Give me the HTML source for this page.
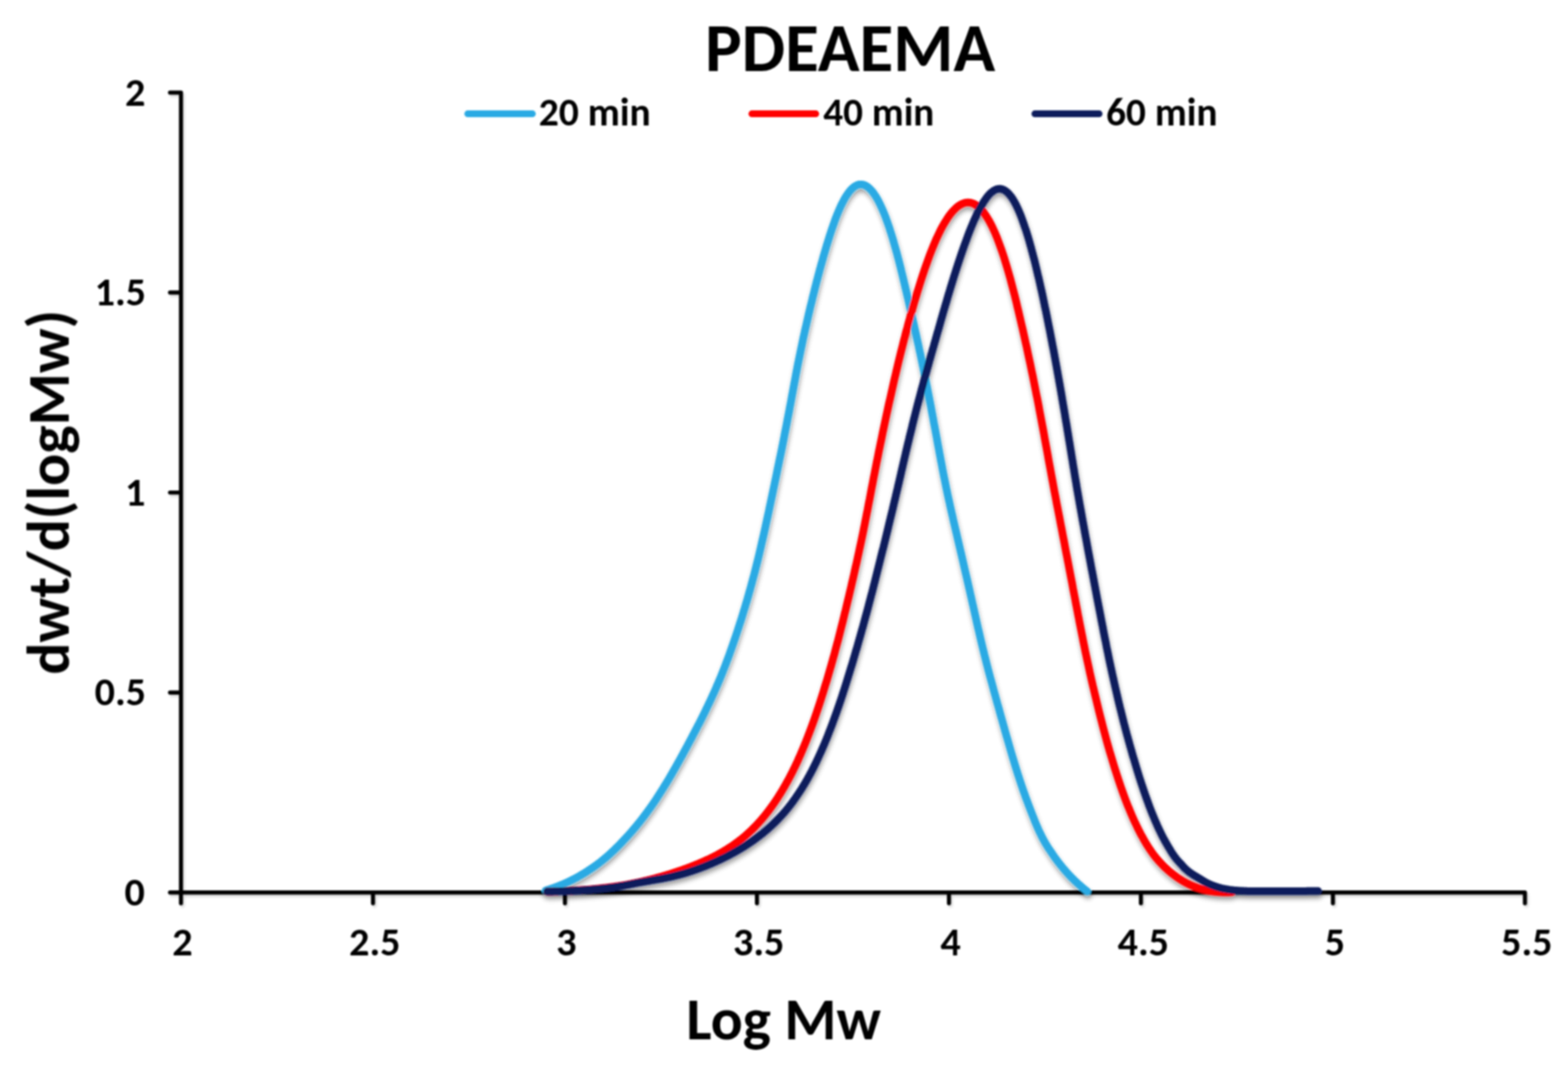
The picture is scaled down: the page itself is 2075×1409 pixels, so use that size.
<!DOCTYPE html>
<html><head><meta charset="utf-8"><title>PDEAEMA</title>
<style>
html,body{margin:0;padding:0;background:#fff;width:2075px;height:1409px;overflow:hidden}
svg{display:block}
</style></head><body>
<svg width="2075" height="1409" viewBox="0 0 2075 1409">
<defs>
<filter id="sh" filterUnits="userSpaceOnUse" x="0" y="0" width="2075" height="1409">
<feGaussianBlur in="SourceAlpha" stdDeviation="3" result="b"/>
<feOffset in="b" dx="0.5" dy="5" result="o"/>
<feComponentTransfer in="o" result="c"><feFuncA type="linear" slope="0.38"/></feComponentTransfer>
<feMerge><feMergeNode in="c"/><feMergeNode in="SourceGraphic"/></feMerge>
</filter>
<filter id="sha" filterUnits="userSpaceOnUse" x="0" y="0" width="2075" height="1409">
<feGaussianBlur in="SourceAlpha" stdDeviation="1.5" result="b"/>
<feOffset in="b" dx="2" dy="3" result="o"/>
<feComponentTransfer in="o" result="c"><feFuncA type="linear" slope="0.15"/></feComponentTransfer>
<feMerge><feMergeNode in="c"/><feMergeNode in="SourceGraphic"/></feMerge>
</filter>
<filter id="soft" filterUnits="userSpaceOnUse" x="0" y="0" width="2075" height="1409"><feGaussianBlur stdDeviation="0.85"/></filter>
</defs>
<rect width="2075" height="1409" fill="#fff"/>
<g filter="url(#soft)">
<path d="M225.0 122.5 H239.5 V1180.7 H2018.0 V1195.0 M225.0 916.2 H239.5 M225.0 651.6 H239.5 M225.0 387.0 H239.5 M225.0 1180.7 H239.5 M239.5 1180.7 V1195.0 M493.6 1180.7 V1195.0 M747.6 1180.7 V1195.0 M1001.7 1180.7 V1195.0 M1255.8 1180.7 V1195.0 M1509.8 1180.7 V1195.0 M1763.9 1180.7 V1195.0" fill="none" stroke="#000" stroke-width="5.4" stroke-linecap="round" stroke-linejoin="round" filter="url(#sha)"/>
<g fill="none" stroke-width="10" stroke-linecap="round" stroke-linejoin="round" filter="url(#sh)">
<path stroke="#2aaae4" d="M722.0 1178.0L723.0 1177.7 723.5 1177.5 724.5 1177.2 725.5 1176.9 726.6 1176.6 727.6 1176.2 728.6 1175.9 729.6 1175.6 730.6 1175.2 731.6 1174.9 732.1 1174.7 733.1 1174.3 734.1 1174.0 735.1 1173.6 736.0 1173.3 737.0 1172.9 738.0 1172.5 739.0 1172.1 739.9 1171.7 740.9 1171.4 741.9 1171.0 742.8 1170.6 743.8 1170.2 744.8 1169.8 745.7 1169.3 746.7 1168.9 747.6 1168.5 748.6 1168.1 749.5 1167.7 750.4 1167.2 751.4 1166.8 752.3 1166.4 753.2 1165.9 754.6 1165.2 755.5 1164.8 756.5 1164.3 757.4 1163.9 758.3 1163.4 759.2 1162.9 760.1 1162.5 761.5 1161.7 762.4 1161.3 763.3 1160.8 764.1 1160.3 765.5 1159.5 766.4 1159.0 767.3 1158.5 768.1 1158.0 769.5 1157.3 770.3 1156.7 771.2 1156.2 772.5 1155.4 773.4 1154.9 774.2 1154.4 775.5 1153.6 776.4 1153.0 777.2 1152.5 778.5 1151.6 779.3 1151.1 780.6 1150.2 781.4 1149.7 782.7 1148.8 783.5 1148.3 784.8 1147.4 785.6 1146.8 786.8 1146.0 787.7 1145.4 788.9 1144.5 789.7 1143.9 790.9 1143.0 791.8 1142.4 793.0 1141.5 794.1 1140.6 795.0 1139.9 796.1 1139.0 797.0 1138.3 798.1 1137.4 799.2 1136.5 800.1 1135.8 801.2 1134.8 802.3 1133.9 803.2 1133.1 804.3 1132.2 805.3 1131.2 806.2 1130.4 807.3 1129.4 808.4 1128.5 809.4 1127.5 810.3 1126.6 811.4 1125.7 812.4 1124.7 813.4 1123.7 814.3 1122.8 815.4 1121.8 816.4 1120.7 817.4 1119.7 818.4 1118.7 819.4 1117.7 820.4 1116.7 821.4 1115.7 822.4 1114.6 823.4 1113.6 824.4 1112.5 825.4 1111.5 826.4 1110.4 827.4 1109.3 828.4 1108.3 829.4 1107.2 830.4 1106.1 831.4 1105.0 832.4 1103.9 833.4 1102.8 834.4 1101.6 835.4 1100.5 836.4 1099.3 837.4 1098.2 838.4 1097.0 839.4 1095.8 840.4 1094.7 841.4 1093.5 842.4 1092.2 843.4 1091.0 844.4 1089.8 845.4 1088.6 846.4 1087.3 847.4 1086.1 848.4 1084.8 849.4 1083.5 850.4 1082.2 851.4 1080.9 852.4 1079.6 853.4 1078.3 854.4 1076.9 855.4 1075.6 856.4 1074.2 857.4 1072.8 858.4 1071.4 859.5 1070.0 860.5 1068.6 861.5 1067.2 862.5 1065.7 863.5 1064.3 864.5 1062.8 865.5 1061.4 866.5 1059.9 867.5 1058.4 868.5 1056.9 869.5 1055.3 870.5 1053.8 871.5 1052.3 872.5 1050.7 873.5 1049.1 874.5 1047.6 875.5 1046.0 876.5 1044.4 877.5 1042.8 878.5 1041.1 879.5 1039.5 880.5 1037.9 881.6 1036.2 882.6 1034.5 883.6 1032.9 884.6 1031.2 885.6 1029.5 886.6 1027.8 887.6 1026.1 888.6 1024.4 889.6 1022.6 890.6 1020.9 891.6 1019.1 892.6 1017.4 893.6 1015.6 894.6 1013.9 895.6 1012.1 896.6 1010.3 897.6 1008.5 898.6 1006.7 899.6 1004.9 900.6 1003.1 901.6 1001.3 902.6 999.5 903.6 997.7 904.6 995.8 905.6 994.0 906.6 992.1 907.6 990.3 908.6 988.4 909.6 986.6 910.6 984.7 911.6 982.8 912.6 980.9 913.6 979.0 914.6 977.2 915.6 975.3 916.6 973.3 917.6 971.4 918.6 969.5 919.6 967.6 920.6 965.7 921.6 963.7 922.6 961.8 923.6 959.8 924.7 957.9 925.7 955.9 926.7 953.9 927.7 951.9 928.7 949.9 929.7 947.9 930.7 945.9 931.7 943.9 932.7 941.9 933.7 939.8 934.7 937.8 935.7 935.7 936.7 933.6 937.7 931.5 938.7 929.4 939.7 927.3 940.7 925.2 941.7 923.0 942.7 920.8 943.7 918.7 944.7 916.4 945.7 914.2 946.7 912.0 947.7 909.7 948.6 907.5 949.6 905.2 950.6 902.9 951.6 900.5 952.6 898.2 953.6 895.8 954.6 893.4 955.6 890.9 956.5 888.5 957.5 886.0 958.5 883.5 959.5 881.0 960.5 878.4 961.4 875.8 962.4 873.2 963.4 870.6 964.4 867.9 965.4 865.2 966.3 862.5 967.3 859.7 968.3 856.9 969.3 854.1 970.3 851.3 971.3 848.4 972.3 845.5 973.3 842.5 974.3 839.5 975.3 836.5 976.3 833.5 977.3 830.4 978.3 827.3 979.3 824.1 980.4 820.9 981.4 817.7 982.4 814.4 983.4 811.1 984.4 807.7 985.5 804.3 986.5 800.9 987.5 797.5 988.6 794.0 989.6 790.4 990.6 786.8 991.6 783.2 992.7 779.5 993.7 775.8 994.7 772.1 995.7 768.3 996.7 764.5 997.8 760.6 998.8 756.7 999.8 752.8 1000.8 748.8 1001.8 744.7 1002.8 740.7 1003.8 736.6 1004.8 732.4 1005.8 728.2 1006.8 724.0 1007.7 719.8 1008.7 715.5 1009.7 711.1 1010.7 706.8 1011.7 702.4 1012.7 697.9 1013.6 693.5 1014.6 689.0 1015.6 684.4 1016.6 679.9 1017.6 675.3 1018.5 670.7 1019.5 666.0 1020.5 661.3 1021.5 656.6 1022.5 651.9 1023.5 647.1 1024.5 642.3 1025.5 637.5 1026.5 632.7 1027.5 627.9 1028.5 623.0 1029.5 618.1 1030.5 613.2 1031.5 608.3 1032.6 603.3 1033.6 598.4 1034.6 593.4 1035.6 588.4 1036.6 583.4 1037.6 578.4 1038.5 573.4 1039.5 568.4 1040.5 563.4 1041.5 558.3 1042.4 553.3 1043.4 548.3 1044.4 543.2 1045.3 538.2 1046.3 533.1 1047.2 528.1 1048.1 523.0 1049.1 518.0 1050.0 513.0 1050.9 508.0 1051.9 503.0 1052.8 498.0 1053.7 493.0 1054.7 488.0 1055.6 483.1 1056.6 478.2 1057.6 473.3 1058.6 468.4 1059.6 463.5 1060.6 458.7 1061.6 453.9 1062.6 449.1 1063.6 444.3 1064.7 439.6 1065.7 434.9 1066.8 430.3 1067.8 425.7 1068.9 421.1 1069.9 416.5 1071.0 412.0 1072.0 407.5 1073.1 403.1 1074.2 398.7 1075.2 394.3 1076.3 390.0 1077.4 385.8 1078.4 381.5 1079.5 377.4 1080.5 373.2 1081.6 369.2 1082.6 365.1 1083.7 361.1 1084.7 357.2 1085.8 353.3 1086.8 349.5 1087.9 345.8 1088.9 342.1 1089.9 338.4 1091.0 334.8 1092.0 331.3 1093.0 327.8 1094.0 324.4 1095.1 321.0 1096.1 317.7 1097.1 314.5 1098.1 311.3 1099.1 308.2 1100.1 305.2 1101.1 302.2 1102.1 299.3 1103.1 296.5 1104.1 293.7 1105.0 291.0 1106.0 288.4 1107.0 285.8 1108.0 283.3 1109.0 280.9 1110.0 278.6 1111.0 276.3 1111.9 274.1 1112.9 272.0 1113.9 269.9 1114.9 268.0 1115.9 266.1 1116.9 264.2 1117.8 262.5 1118.8 260.8 1119.8 259.2 1120.8 257.7 1121.8 256.3 1122.8 254.9 1123.7 253.6 1124.7 252.4 1125.7 251.3 1126.7 250.2 1127.7 249.3 1128.7 248.4 1129.7 247.6 1130.6 246.8 1131.6 246.2 1132.6 245.6 1133.6 245.1 1134.6 244.7 1135.6 244.4 1136.5 244.1 1137.5 244.0 1138.5 243.9 1139.5 243.9 1140.5 243.9 1141.5 244.1 1142.5 244.3 1143.4 244.6 1144.4 245.0 1145.4 245.5 1146.4 246.0 1147.4 246.6 1148.4 247.4 1149.4 248.1 1150.4 249.0 1151.4 250.0 1152.4 251.0 1153.4 252.1 1154.4 253.3 1155.4 254.6 1156.4 255.9 1157.4 257.4 1158.4 258.9 1159.4 260.5 1160.4 262.2 1161.4 263.9 1162.4 265.7 1163.3 267.6 1164.3 269.6 1165.3 271.7 1166.3 273.8 1167.3 276.0 1168.3 278.3 1169.3 280.7 1170.3 283.1 1171.3 285.6 1172.3 288.2 1173.2 290.9 1174.2 293.6 1175.2 296.4 1176.2 299.3 1177.2 302.2 1178.1 305.3 1179.1 308.3 1180.1 311.5 1181.1 314.7 1182.1 318.0 1183.0 321.4 1184.0 324.8 1185.0 328.3 1186.0 331.8 1187.0 335.4 1187.9 339.1 1188.9 342.8 1189.9 346.6 1190.9 350.5 1191.9 354.4 1192.8 358.4 1193.8 362.4 1194.8 366.5 1195.8 370.6 1196.8 374.8 1197.8 379.0 1198.8 383.3 1199.8 387.6 1200.8 392.0 1201.9 396.4 1202.9 400.9 1203.9 405.4 1205.0 410.0 1206.0 414.6 1207.1 419.2 1208.1 423.9 1209.2 428.6 1210.2 433.3 1211.3 438.1 1212.4 442.9 1213.4 447.7 1214.5 452.6 1215.6 457.5 1216.6 462.4 1217.7 467.3 1218.7 472.3 1219.8 477.3 1220.8 482.3 1221.9 487.3 1222.9 492.4 1223.9 497.5 1225.0 502.6 1226.0 507.7 1227.0 512.8 1228.0 517.9 1229.0 523.0 1230.0 528.2 1231.0 533.3 1232.0 538.4 1232.9 543.6 1233.9 548.8 1234.9 553.9 1235.8 559.1 1236.8 564.2 1237.8 569.4 1238.7 574.5 1239.7 579.6 1240.6 584.8 1241.5 589.9 1242.5 595.0 1243.4 600.1 1244.4 605.2 1245.3 610.3 1246.3 615.3 1247.2 620.3 1248.2 625.4 1249.2 630.4 1250.2 635.3 1251.2 640.3 1252.2 645.2 1253.2 650.1 1254.2 655.0 1255.3 659.9 1256.4 664.7 1257.4 669.5 1258.5 674.3 1259.6 679.1 1260.7 683.8 1261.7 688.5 1262.8 693.2 1263.9 697.8 1265.0 702.5 1266.1 707.1 1267.1 711.7 1268.2 716.2 1269.2 720.7 1270.3 725.3 1271.3 729.7 1272.4 734.2 1273.4 738.6 1274.4 743.0 1275.4 747.4 1276.4 751.8 1277.4 756.1 1278.4 760.4 1279.4 764.7 1280.4 769.0 1281.4 773.3 1282.3 777.5 1283.3 781.7 1284.2 785.9 1285.2 790.1 1286.1 794.2 1287.0 798.4 1288.0 802.5 1288.9 806.6 1289.8 810.7 1290.7 814.7 1291.6 818.8 1292.5 822.8 1293.4 826.8 1294.3 830.9 1295.3 834.8 1296.2 838.8 1297.1 842.8 1298.0 846.7 1298.9 850.6 1299.9 854.6 1300.8 858.5 1301.8 862.3 1302.7 866.2 1303.7 870.1 1304.7 873.9 1305.6 877.8 1306.6 881.6 1307.6 885.4 1308.6 889.2 1309.6 893.0 1310.6 896.8 1311.7 900.5 1312.7 904.3 1313.7 908.1 1314.7 911.8 1315.7 915.5 1316.8 919.3 1317.8 923.0 1318.8 926.7 1319.8 930.4 1320.9 934.1 1321.9 937.7 1322.9 941.4 1323.9 945.1 1324.9 948.7 1326.0 952.4 1327.0 956.0 1328.0 959.6 1329.0 963.2 1330.0 966.8 1331.0 970.4 1332.0 973.9 1333.1 977.5 1334.1 981.0 1335.1 984.5 1336.1 988.0 1337.1 991.5 1338.1 995.0 1339.1 998.4 1340.1 1001.9 1341.2 1005.3 1342.2 1008.6 1343.2 1012.0 1344.2 1015.3 1345.3 1018.7 1346.3 1021.9 1347.3 1025.2 1348.4 1028.4 1349.4 1031.6 1350.5 1034.8 1351.5 1038.0 1352.6 1041.1 1353.6 1044.2 1354.7 1047.2 1355.8 1050.2 1356.8 1053.2 1357.9 1056.2 1359.0 1059.1 1360.1 1062.0 1361.1 1064.8 1362.2 1067.7 1363.3 1070.4 1364.3 1073.2 1365.4 1075.9 1366.4 1078.5 1367.5 1081.2 1368.5 1083.8 1369.5 1086.4 1370.6 1088.9 1371.6 1091.3 1372.6 1093.8 1373.7 1096.2 1374.7 1098.6 1375.8 1100.9 1376.9 1103.1 1378.0 1105.4 1379.0 1107.3 1380.1 1109.5 1381.3 1111.7 1382.3 1113.5 1383.5 1115.6 1384.6 1117.4 1385.7 1119.2 1387.0 1121.3 1388.1 1123.0 1389.3 1124.6 1390.4 1126.3 1391.6 1128.0 1392.7 1129.6 1393.5 1130.9 1394.7 1132.5 1395.8 1134.2 1396.7 1135.4 1397.9 1137.0 1398.8 1138.3 1400.0 1139.9 1400.9 1141.1 1401.9 1142.3 1402.8 1143.5 1404.1 1145.1 1405.0 1146.2 1406.0 1147.4 1406.9 1148.6 1407.9 1149.7 1408.6 1150.5 1409.6 1151.7 1410.6 1152.8 1411.6 1154.0 1412.3 1154.7 1413.3 1155.8 1414.4 1157.0 1415.1 1157.7 1416.1 1158.8 1416.8 1159.6 1417.9 1160.7 1418.6 1161.4 1419.4 1162.1 1420.4 1163.2 1421.2 1163.9 1421.9 1164.7 1422.7 1165.4 1423.8 1166.4 1424.5 1167.1 1425.3 1167.9 1426.1 1168.6 1426.8 1169.3 1427.6 1169.9 1428.4 1170.6 1429.2 1171.3 1430.0 1172.0 1430.8 1172.7 1431.6 1173.4 1432.4 1174.1 1433.2 1174.7 1434.0 1175.4 1434.8 1176.1 1435.6 1176.7 1436.4 1177.4 1438.9 1179.4"/>
<path stroke="#ff0000" d="M724.1 1179.5L724.6 1179.5 725.6 1179.5 726.6 1179.5 727.7 1179.4 728.7 1179.4 729.7 1179.4 730.3 1179.4 731.3 1179.3 732.3 1179.3 733.4 1179.3 734.4 1179.3 735.5 1179.2 736.5 1179.2 737.6 1179.2 738.7 1179.1 739.7 1179.1 740.8 1179.0 741.3 1179.0 742.4 1179.0 743.4 1178.9 744.5 1178.9 745.5 1178.9 746.6 1178.8 747.7 1178.8 748.8 1178.7 749.3 1178.7 750.4 1178.6 751.4 1178.6 752.5 1178.5 753.6 1178.5 754.7 1178.4 755.7 1178.4 756.3 1178.3 757.4 1178.3 758.4 1178.2 759.5 1178.1 760.6 1178.1 761.7 1178.0 762.2 1178.0 763.3 1177.9 764.4 1177.8 765.5 1177.7 766.6 1177.7 767.7 1177.6 768.2 1177.5 769.3 1177.5 770.4 1177.4 771.5 1177.3 772.6 1177.2 773.7 1177.1 774.3 1177.1 775.4 1177.0 776.5 1176.9 777.6 1176.8 778.7 1176.7 779.2 1176.7 780.3 1176.6 781.5 1176.5 782.6 1176.4 783.7 1176.3 784.8 1176.2 785.3 1176.1 786.4 1176.0 787.5 1175.9 788.7 1175.8 789.8 1175.7 790.3 1175.6 791.4 1175.5 792.5 1175.4 793.7 1175.2 794.8 1175.1 795.3 1175.1 796.4 1174.9 797.6 1174.8 798.7 1174.7 799.3 1174.6 800.4 1174.5 801.5 1174.4 802.6 1174.2 803.7 1174.1 804.3 1174.0 805.4 1173.9 806.5 1173.8 807.6 1173.6 808.7 1173.5 809.4 1173.4 810.4 1173.2 811.5 1173.1 812.6 1172.9 813.7 1172.8 814.4 1172.7 815.5 1172.5 816.5 1172.4 817.6 1172.2 818.4 1172.1 819.4 1171.9 820.5 1171.8 821.6 1171.6 822.6 1171.4 823.4 1171.3 824.5 1171.1 825.5 1171.0 826.6 1170.8 827.6 1170.6 828.5 1170.4 829.5 1170.3 830.5 1170.1 831.6 1169.9 832.5 1169.7 833.5 1169.5 834.5 1169.3 835.5 1169.1 836.5 1168.9 837.5 1168.7 838.5 1168.5 839.5 1168.3 840.5 1168.1 841.5 1167.9 842.5 1167.7 843.5 1167.5 844.5 1167.3 845.5 1167.1 846.5 1166.8 847.5 1166.6 848.5 1166.4 849.5 1166.2 850.5 1165.9 851.5 1165.7 852.5 1165.5 853.5 1165.2 854.5 1165.0 855.5 1164.8 856.5 1164.5 857.5 1164.3 858.5 1164.0 859.5 1163.8 860.5 1163.5 861.5 1163.3 862.5 1163.0 863.5 1162.8 864.5 1162.5 865.5 1162.2 866.5 1162.0 867.5 1161.7 868.5 1161.4 869.5 1161.2 870.5 1160.9 871.5 1160.6 872.5 1160.3 873.5 1160.0 874.5 1159.8 875.5 1159.5 876.5 1159.2 877.5 1158.9 878.5 1158.6 879.5 1158.3 880.5 1158.0 881.5 1157.7 882.5 1157.4 883.5 1157.1 884.5 1156.8 885.5 1156.5 886.5 1156.2 887.5 1155.8 888.5 1155.5 889.5 1155.2 890.5 1154.9 891.5 1154.6 892.5 1154.2 893.5 1153.9 894.5 1153.6 895.5 1153.2 896.5 1152.9 897.5 1152.6 898.5 1152.2 899.5 1151.9 900.5 1151.5 901.5 1151.2 902.5 1150.8 903.5 1150.5 904.5 1150.1 905.5 1149.8 906.5 1149.4 907.5 1149.0 908.5 1148.7 909.5 1148.3 910.5 1147.9 911.5 1147.5 912.5 1147.2 913.5 1146.8 914.5 1146.4 915.5 1146.0 916.5 1145.6 917.5 1145.2 918.5 1144.8 919.5 1144.4 920.5 1144.0 921.5 1143.6 922.5 1143.2 923.5 1142.8 924.5 1142.4 925.5 1141.9 926.5 1141.5 927.5 1141.1 928.5 1140.7 929.5 1140.2 930.5 1139.8 931.5 1139.3 932.5 1138.9 933.5 1138.4 934.5 1138.0 935.5 1137.5 936.5 1137.1 937.5 1136.6 938.5 1136.1 939.5 1135.6 940.5 1135.2 941.5 1134.7 942.5 1134.2 943.5 1133.7 944.5 1133.2 945.5 1132.7 946.5 1132.1 947.5 1131.6 948.5 1131.1 949.5 1130.6 950.5 1130.0 951.5 1129.5 952.5 1128.9 953.5 1128.4 954.5 1127.8 955.5 1127.2 956.5 1126.7 957.5 1126.1 958.5 1125.5 959.5 1124.9 960.5 1124.3 961.5 1123.7 962.5 1123.1 963.5 1122.4 964.5 1121.8 965.5 1121.1 966.5 1120.5 967.5 1119.8 968.5 1119.2 969.5 1118.5 970.5 1117.8 971.5 1117.1 972.5 1116.4 973.5 1115.7 974.5 1114.9 975.5 1114.2 976.5 1113.5 977.5 1112.7 978.5 1111.9 979.5 1111.2 980.5 1110.4 981.5 1109.6 982.5 1108.8 983.5 1107.9 984.5 1107.1 985.5 1106.3 986.5 1105.4 987.5 1104.5 988.5 1103.6 989.5 1102.7 990.5 1101.8 991.5 1100.9 992.5 1100.0 993.5 1099.0 994.5 1098.1 995.5 1097.1 996.5 1096.1 997.5 1095.1 998.5 1094.1 999.5 1093.1 1000.5 1092.0 1001.5 1091.0 1002.5 1089.9 1003.5 1088.8 1004.5 1087.7 1005.5 1086.6 1006.5 1085.5 1007.5 1084.3 1008.5 1083.2 1009.5 1082.0 1010.5 1080.8 1011.5 1079.6 1012.5 1078.3 1013.5 1077.1 1014.5 1075.8 1015.5 1074.5 1016.5 1073.3 1017.5 1071.9 1018.5 1070.6 1019.5 1069.2 1020.5 1067.9 1021.5 1066.5 1022.5 1065.1 1023.5 1063.7 1024.5 1062.2 1025.5 1060.7 1026.5 1059.3 1027.5 1057.8 1028.5 1056.2 1029.5 1054.7 1030.5 1053.1 1031.5 1051.6 1032.5 1049.9 1033.5 1048.3 1034.5 1046.7 1035.5 1045.0 1036.5 1043.3 1037.5 1041.6 1038.5 1039.9 1039.5 1038.1 1040.5 1036.3 1041.5 1034.5 1042.5 1032.7 1043.5 1030.9 1044.5 1029.0 1045.5 1027.1 1046.5 1025.2 1047.5 1023.2 1048.5 1021.3 1049.5 1019.3 1050.5 1017.2 1051.5 1015.2 1052.5 1013.1 1053.5 1011.0 1054.5 1008.9 1055.5 1006.8 1056.4 1004.6 1057.4 1002.4 1058.4 1000.2 1059.4 997.9 1060.4 995.6 1061.4 993.3 1062.4 990.9 1063.4 988.6 1064.4 986.2 1065.4 983.7 1066.4 981.3 1067.3 978.8 1068.3 976.3 1069.3 973.7 1070.3 971.1 1071.3 968.5 1072.3 965.9 1073.3 963.2 1074.3 960.5 1075.3 957.7 1076.3 955.0 1077.3 952.2 1078.3 949.3 1079.3 946.5 1080.3 943.5 1081.3 940.6 1082.3 937.6 1083.3 934.6 1084.3 931.6 1085.3 928.5 1086.3 925.4 1087.3 922.3 1088.3 919.1 1089.3 915.9 1090.3 912.6 1091.3 909.3 1092.3 906.0 1093.4 902.7 1094.4 899.3 1095.4 895.9 1096.4 892.4 1097.4 888.9 1098.4 885.4 1099.5 881.8 1100.5 878.2 1101.5 874.6 1102.5 870.9 1103.6 867.2 1104.6 863.4 1105.6 859.6 1106.6 855.8 1107.6 852.0 1108.7 848.1 1109.7 844.2 1110.7 840.2 1111.7 836.2 1112.7 832.2 1113.7 828.2 1114.8 824.1 1115.8 820.0 1116.8 815.8 1117.8 811.6 1118.9 807.4 1119.9 803.2 1120.9 798.9 1121.9 794.6 1123.0 790.3 1124.0 785.9 1125.0 781.6 1126.1 777.1 1127.1 772.7 1128.1 768.2 1129.2 763.8 1130.2 759.2 1131.2 754.7 1132.2 750.2 1133.3 745.6 1134.3 741.0 1135.3 736.3 1136.3 731.7 1137.3 727.0 1138.3 722.4 1139.3 717.7 1140.3 712.9 1141.3 708.2 1142.3 703.4 1143.2 698.7 1144.2 693.9 1145.1 689.1 1146.1 684.3 1147.0 679.5 1148.0 674.7 1148.9 669.8 1149.8 665.0 1150.8 660.2 1151.7 655.3 1152.6 650.5 1153.5 645.6 1154.5 640.8 1155.4 635.9 1156.3 631.0 1157.3 626.2 1158.2 621.4 1159.2 616.5 1160.1 611.7 1161.1 606.9 1162.1 602.0 1163.0 597.2 1164.0 592.4 1165.0 587.6 1166.0 582.9 1167.0 578.1 1167.9 573.3 1168.9 568.6 1169.9 563.9 1170.9 559.2 1171.9 554.5 1172.9 549.8 1173.9 545.2 1174.9 540.6 1175.9 535.9 1176.9 531.4 1178.0 526.8 1179.0 522.3 1180.0 517.7 1181.0 513.3 1182.0 508.8 1183.0 504.4 1184.0 500.0 1185.1 495.6 1186.1 491.2 1187.1 486.9 1188.1 482.6 1189.1 478.4 1190.2 474.1 1191.2 469.9 1192.2 465.8 1193.3 461.6 1194.3 457.6 1195.3 453.5 1196.3 449.5 1197.4 445.5 1198.4 441.5 1199.4 437.6 1200.5 433.8 1201.5 429.9 1202.5 426.1 1203.6 422.4 1204.6 418.6 1205.6 415.0 1206.7 411.3 1207.7 407.7 1208.7 404.1 1209.7 400.6 1210.8 397.1 1211.8 393.7 1212.8 390.3 1213.8 386.9 1214.8 383.6 1215.8 380.4 1216.8 377.1 1217.8 373.9 1218.8 370.8 1219.8 367.7 1220.8 364.6 1221.8 361.6 1222.8 358.6 1223.8 355.7 1224.8 352.8 1225.8 350.0 1226.8 347.2 1227.8 344.4 1228.8 341.7 1229.7 339.1 1230.7 336.4 1231.7 333.9 1232.7 331.3 1233.7 328.9 1234.7 326.4 1235.7 324.0 1236.6 321.7 1237.6 319.4 1238.6 317.1 1239.6 314.9 1240.6 312.8 1241.6 310.7 1242.6 308.6 1243.6 306.6 1244.5 304.6 1245.5 302.7 1246.5 300.8 1247.5 299.0 1248.5 297.3 1249.5 295.5 1250.5 293.9 1251.5 292.2 1252.5 290.7 1253.5 289.1 1254.5 287.6 1255.5 286.2 1256.4 284.8 1257.4 283.5 1258.4 282.2 1259.4 281.0 1260.4 279.9 1261.4 278.7 1262.4 277.7 1263.4 276.7 1264.4 275.7 1265.4 274.8 1266.4 273.9 1267.4 273.1 1268.4 272.4 1269.4 271.7 1270.4 271.1 1271.4 270.5 1272.4 270.0 1273.4 269.5 1274.5 269.1 1275.5 268.7 1276.5 268.4 1277.5 268.2 1278.5 268.0 1279.5 267.9 1280.5 267.8 1281.5 267.8 1282.5 267.9 1283.5 268.0 1284.5 268.2 1285.5 268.4 1286.5 268.7 1287.6 269.1 1288.6 269.5 1289.6 270.0 1290.6 270.6 1291.6 271.2 1292.6 271.9 1293.6 272.6 1294.6 273.4 1295.6 274.3 1296.6 275.2 1297.6 276.2 1298.6 277.3 1299.6 278.4 1300.6 279.6 1301.6 280.9 1302.6 282.2 1303.6 283.6 1304.6 285.0 1305.6 286.6 1306.6 288.2 1307.6 289.8 1308.6 291.5 1309.6 293.3 1310.6 295.2 1311.6 297.1 1312.6 299.1 1313.6 301.2 1314.6 303.3 1315.6 305.5 1316.6 307.7 1317.6 310.1 1318.6 312.5 1319.6 314.9 1320.5 317.4 1321.5 320.0 1322.5 322.7 1323.5 325.4 1324.5 328.2 1325.5 331.0 1326.5 334.0 1327.5 336.9 1328.5 340.0 1329.5 343.1 1330.4 346.3 1331.4 349.5 1332.4 352.8 1333.4 356.2 1334.4 359.6 1335.4 363.1 1336.4 366.6 1337.4 370.2 1338.3 373.9 1339.3 377.6 1340.3 381.4 1341.3 385.2 1342.3 389.1 1343.3 393.0 1344.3 397.0 1345.3 401.1 1346.2 405.2 1347.2 409.3 1348.2 413.5 1349.2 417.8 1350.2 422.1 1351.2 426.5 1352.2 430.9 1353.3 435.3 1354.3 439.8 1355.3 444.3 1356.3 448.9 1357.3 453.5 1358.4 458.2 1359.4 462.9 1360.4 467.7 1361.4 472.4 1362.5 477.3 1363.5 482.1 1364.5 487.0 1365.5 491.9 1366.6 496.9 1367.6 501.9 1368.6 506.9 1369.6 512.0 1370.6 517.1 1371.6 522.2 1372.7 527.3 1373.7 532.5 1374.7 537.7 1375.6 542.9 1376.6 548.1 1377.6 553.4 1378.6 558.7 1379.6 564.0 1380.6 569.3 1381.6 574.6 1382.5 580.0 1383.5 585.3 1384.5 590.7 1385.5 596.1 1386.5 601.5 1387.4 606.9 1388.4 612.3 1389.4 617.7 1390.4 623.1 1391.4 628.6 1392.4 634.0 1393.4 639.4 1394.4 644.9 1395.4 650.3 1396.5 655.7 1397.5 661.1 1398.5 666.6 1399.6 672.0 1400.6 677.4 1401.7 682.8 1402.7 688.2 1403.7 693.6 1404.8 699.0 1405.8 704.4 1406.8 709.7 1407.9 715.1 1408.9 720.4 1409.9 725.8 1410.9 731.1 1412.0 736.4 1413.0 741.7 1414.0 746.9 1415.0 752.2 1416.0 757.4 1417.0 762.7 1418.0 767.8 1419.0 773.0 1419.9 778.2 1420.9 783.3 1421.9 788.4 1422.9 793.5 1423.8 798.6 1424.8 803.6 1425.8 808.7 1426.7 813.7 1427.7 818.6 1428.6 823.6 1429.6 828.5 1430.6 833.4 1431.5 838.2 1432.5 843.1 1433.4 847.9 1434.4 852.6 1435.4 857.4 1436.3 862.1 1437.3 866.7 1438.3 871.4 1439.3 876.0 1440.3 880.5 1441.3 885.1 1442.2 889.6 1443.2 894.0 1444.2 898.4 1445.2 902.8 1446.2 907.2 1447.3 911.5 1448.3 915.8 1449.3 920.0 1450.3 924.2 1451.3 928.4 1452.3 932.5 1453.3 936.6 1454.3 940.7 1455.3 944.7 1456.3 948.7 1457.3 952.6 1458.3 956.5 1459.3 960.4 1460.3 964.2 1461.3 968.0 1462.3 971.8 1463.3 975.5 1464.3 979.2 1465.3 982.8 1466.3 986.4 1467.3 989.9 1468.3 993.4 1469.4 996.9 1470.4 1000.3 1471.4 1003.7 1472.4 1007.1 1473.4 1010.4 1474.4 1013.7 1475.4 1016.9 1476.4 1020.1 1477.4 1023.2 1478.4 1026.3 1479.4 1029.4 1480.4 1032.4 1481.4 1035.4 1482.4 1038.4 1483.4 1041.3 1484.4 1044.2 1485.4 1047.0 1486.4 1049.8 1487.4 1052.5 1488.4 1055.2 1489.4 1057.9 1490.4 1060.6 1491.4 1063.1 1492.4 1065.7 1493.5 1068.2 1494.5 1070.7 1495.5 1073.1 1496.5 1075.5 1497.5 1077.9 1498.5 1080.2 1499.5 1082.5 1500.5 1084.8 1501.5 1087.0 1502.6 1089.1 1503.6 1091.3 1504.6 1093.4 1505.6 1095.5 1506.6 1097.5 1507.6 1099.5 1508.6 1101.4 1509.6 1103.4 1510.6 1105.2 1511.7 1107.1 1512.7 1108.9 1513.7 1110.7 1514.7 1112.5 1515.7 1114.2 1516.7 1115.9 1517.7 1117.5 1518.7 1119.1 1519.7 1120.7 1520.7 1122.3 1521.7 1123.8 1522.8 1125.3 1523.8 1126.8 1524.8 1128.2 1525.8 1129.6 1526.8 1131.0 1527.8 1132.3 1528.9 1133.6 1529.9 1134.9 1531.0 1136.1 1532.0 1137.3 1533.0 1138.5 1534.1 1139.7 1535.1 1140.8 1536.2 1141.9 1537.1 1142.9 1538.1 1144.0 1539.2 1145.0 1540.2 1146.1 1541.1 1147.0 1542.2 1148.0 1543.3 1149.0 1544.2 1149.8 1545.3 1150.8 1546.1 1151.6 1547.2 1152.5 1548.1 1153.2 1549.2 1154.2 1550.1 1154.9 1551.2 1155.8 1552.1 1156.5 1553.0 1157.1 1554.1 1158.0 1555.0 1158.7 1555.9 1159.3 1557.1 1160.2 1557.9 1160.8 1558.8 1161.4 1560.1 1162.2 1560.9 1162.8 1561.8 1163.4 1562.7 1163.9 1563.6 1164.5 1564.9 1165.3 1565.8 1165.8 1566.7 1166.4 1567.6 1166.9 1568.5 1167.4 1569.4 1167.9 1570.3 1168.4 1571.3 1168.9 1572.2 1169.3 1573.2 1169.8 1574.6 1170.5 1575.5 1170.9 1576.5 1171.4 1577.5 1171.8 1578.5 1172.2 1579.5 1172.6 1580.4 1173.0 1581.4 1173.4 1582.0 1173.6 1583.0 1173.9 1584.0 1174.3 1585.0 1174.7 1586.0 1175.0 1587.1 1175.3 1588.1 1175.7 1589.2 1176.0 1590.2 1176.3 1591.3 1176.6 1592.4 1176.9 1592.9 1177.0 1594.0 1177.3 1595.1 1177.5 1596.2 1177.8 1597.3 1178.0 1598.4 1178.2 1599.0 1178.3 1600.1 1178.6 1601.2 1178.8 1602.4 1178.9 1603.0 1179.0 1604.1 1179.2 1605.3 1179.4 1606.4 1179.5 1607.0 1179.6 1608.2 1179.7 1609.4 1179.8 1610.6 1180.0 1611.2 1180.0 1612.4 1180.1 1613.6 1180.2 1614.2 1180.2 1615.5 1180.3 1616.7 1180.3 1617.3 1180.4 1618.6 1180.4 1619.2 1180.4 1620.5 1180.4 1621.7 1180.4 1622.4 1180.4 1623.7 1180.4 1624.3 1180.4 1625.6 1180.4 1626.2 1180.4 1627.5 1180.3 1628.2 1180.3 1629.5 1180.2 1630.2 1180.2"/>
<path stroke="#0c1f5c" d="M724.1 1179.5L724.6 1179.5 725.7 1179.5 726.3 1179.5 727.4 1179.4 728.5 1179.4 729.6 1179.4 730.7 1179.4 731.8 1179.4 732.3 1179.3 733.4 1179.3 734.5 1179.3 735.6 1179.3 736.8 1179.2 737.3 1179.2 738.4 1179.2 739.6 1179.2 740.7 1179.1 741.2 1179.1 742.4 1179.1 743.5 1179.1 744.6 1179.0 745.7 1179.0 746.3 1179.0 747.4 1178.9 748.6 1178.9 749.7 1178.8 750.3 1178.8 751.4 1178.8 752.5 1178.7 753.7 1178.7 754.3 1178.6 755.4 1178.6 756.5 1178.5 757.7 1178.5 758.3 1178.4 759.4 1178.4 760.6 1178.3 761.7 1178.3 762.3 1178.2 763.4 1178.2 764.6 1178.1 765.8 1178.0 766.3 1178.0 767.5 1177.9 768.6 1177.9 769.2 1177.8 770.4 1177.8 771.5 1177.7 772.7 1177.6 773.3 1177.6 774.5 1177.5 775.6 1177.4 776.8 1177.3 777.4 1177.3 778.5 1177.2 779.7 1177.1 780.3 1177.1 781.5 1177.0 782.6 1176.9 783.2 1176.8 784.4 1176.7 785.6 1176.6 786.8 1176.5 787.3 1176.5 788.5 1176.4 789.7 1176.3 790.3 1176.2 791.5 1176.1 792.6 1176.0 793.2 1175.9 794.4 1175.8 795.6 1175.7 796.8 1175.6 797.4 1175.5 798.6 1175.4 799.7 1175.3 800.4 1175.2 801.5 1175.1 802.7 1175.0 803.3 1174.9 804.5 1174.7 805.6 1174.6 806.3 1174.5 807.5 1174.4 808.6 1174.2 809.7 1174.1 810.5 1174.0 811.6 1173.8 812.7 1173.7 813.4 1173.6 814.6 1173.4 815.7 1173.2 816.4 1173.1 817.5 1173.0 818.6 1172.8 819.4 1172.6 820.5 1172.5 821.6 1172.3 822.4 1172.1 823.5 1172.0 824.6 1171.8 825.7 1171.6 826.5 1171.4 827.6 1171.2 828.6 1171.0 829.5 1170.9 830.6 1170.7 831.6 1170.5 832.5 1170.3 833.5 1170.1 834.6 1169.9 835.5 1169.7 836.5 1169.5 837.5 1169.3 838.5 1169.1 839.5 1168.9 840.5 1168.7 841.5 1168.5 842.5 1168.2 843.5 1168.0 844.5 1167.9 845.5 1167.7 846.5 1167.5 847.5 1167.3 848.5 1167.2 849.5 1167.0 850.5 1166.8 851.5 1166.6 852.5 1166.5 853.5 1166.3 854.5 1166.1 855.5 1165.9 856.5 1165.8 857.5 1165.6 858.5 1165.4 859.5 1165.3 860.5 1165.1 861.5 1164.9 862.5 1164.7 863.5 1164.6 864.5 1164.4 865.5 1164.2 866.5 1164.1 867.5 1163.9 868.5 1163.7 869.5 1163.5 870.5 1163.4 871.5 1163.2 872.5 1163.0 873.5 1162.8 874.5 1162.6 875.5 1162.5 876.5 1162.3 877.5 1162.1 878.5 1161.9 879.5 1161.7 880.5 1161.5 881.5 1161.3 882.5 1161.1 883.5 1160.9 884.5 1160.7 885.5 1160.5 886.5 1160.3 887.5 1160.1 888.5 1159.8 889.5 1159.6 890.5 1159.4 891.5 1159.1 892.5 1158.9 893.5 1158.7 894.5 1158.4 895.5 1158.2 896.5 1157.9 897.5 1157.7 898.5 1157.4 899.5 1157.1 900.5 1156.9 901.5 1156.6 902.5 1156.3 903.5 1156.0 904.5 1155.8 905.5 1155.5 906.5 1155.2 907.5 1154.9 908.5 1154.6 909.5 1154.3 910.5 1154.0 911.5 1153.7 912.5 1153.3 913.5 1153.0 914.5 1152.7 915.5 1152.4 916.5 1152.0 917.5 1151.7 918.5 1151.3 919.5 1151.0 920.5 1150.7 921.5 1150.3 922.5 1149.9 923.5 1149.6 924.5 1149.2 925.5 1148.8 926.5 1148.5 927.5 1148.1 928.5 1147.7 929.5 1147.3 930.5 1147.0 931.5 1146.6 932.5 1146.2 933.5 1145.8 934.5 1145.4 935.5 1145.0 936.5 1144.6 937.5 1144.1 938.5 1143.7 939.5 1143.3 940.5 1142.9 941.5 1142.5 942.5 1142.0 943.5 1141.6 944.5 1141.1 945.5 1140.7 946.5 1140.3 947.5 1139.8 948.5 1139.4 949.5 1138.9 950.5 1138.4 951.5 1138.0 952.5 1137.5 953.5 1137.0 954.5 1136.5 955.5 1136.1 956.5 1135.6 957.5 1135.1 958.5 1134.6 959.5 1134.1 960.5 1133.6 961.5 1133.1 962.5 1132.6 963.5 1132.1 964.5 1131.5 965.5 1131.0 966.5 1130.5 967.5 1129.9 968.5 1129.4 969.5 1128.9 970.5 1128.3 971.5 1127.8 972.5 1127.2 973.5 1126.6 974.5 1126.1 975.5 1125.5 976.5 1124.9 977.5 1124.3 978.5 1123.7 979.5 1123.1 980.5 1122.5 981.5 1121.9 982.5 1121.3 983.5 1120.7 984.5 1120.1 985.5 1119.5 986.5 1118.8 987.5 1118.2 988.5 1117.5 989.5 1116.9 990.5 1116.2 991.5 1115.5 992.5 1114.9 993.5 1114.2 994.5 1113.5 995.5 1112.8 996.5 1112.1 997.5 1111.4 998.5 1110.7 999.5 1110.0 1000.5 1109.2 1001.5 1108.5 1002.5 1107.7 1003.5 1107.0 1004.5 1106.2 1005.5 1105.4 1006.5 1104.7 1007.5 1103.9 1008.5 1103.1 1009.5 1102.3 1010.5 1101.4 1011.5 1100.6 1012.5 1099.8 1013.5 1098.9 1014.5 1098.1 1015.5 1097.2 1016.5 1096.3 1017.5 1095.4 1018.5 1094.5 1019.5 1093.6 1020.5 1092.7 1021.5 1091.8 1022.5 1090.8 1023.5 1089.9 1024.5 1088.9 1025.5 1087.9 1026.5 1086.9 1027.5 1085.9 1028.5 1084.9 1029.5 1083.9 1030.5 1082.8 1031.5 1081.8 1032.5 1080.7 1033.5 1079.6 1034.6 1078.5 1035.6 1077.4 1036.6 1076.2 1037.6 1075.1 1038.6 1073.9 1039.6 1072.8 1040.6 1071.6 1041.6 1070.3 1042.6 1069.1 1043.6 1067.9 1044.6 1066.6 1045.6 1065.3 1046.6 1064.0 1047.6 1062.7 1048.6 1061.4 1049.6 1060.0 1050.5 1058.7 1051.5 1057.3 1052.5 1055.9 1053.5 1054.4 1054.5 1053.0 1055.5 1051.5 1056.5 1050.0 1057.5 1048.5 1058.5 1047.0 1059.5 1045.4 1060.5 1043.9 1061.5 1042.3 1062.5 1040.7 1063.5 1039.0 1064.5 1037.4 1065.5 1035.7 1066.5 1034.0 1067.5 1032.2 1068.5 1030.5 1069.5 1028.7 1070.5 1026.9 1071.5 1025.1 1072.5 1023.2 1073.5 1021.4 1074.5 1019.5 1075.5 1017.5 1076.5 1015.6 1077.5 1013.6 1078.5 1011.6 1079.5 1009.6 1080.5 1007.5 1081.4 1005.4 1082.4 1003.3 1083.4 1001.2 1084.4 999.0 1085.4 996.8 1086.4 994.6 1087.4 992.4 1088.4 990.1 1089.4 987.8 1090.4 985.5 1091.4 983.1 1092.4 980.7 1093.4 978.3 1094.4 975.8 1095.4 973.4 1096.3 970.9 1097.3 968.3 1098.3 965.8 1099.3 963.2 1100.3 960.6 1101.3 957.9 1102.3 955.3 1103.3 952.6 1104.3 949.8 1105.3 947.1 1106.3 944.3 1107.3 941.5 1108.3 938.6 1109.3 935.8 1110.3 932.8 1111.3 929.9 1112.3 927.0 1113.3 924.0 1114.3 921.0 1115.3 917.9 1116.3 914.8 1117.3 911.7 1118.3 908.6 1119.3 905.5 1120.3 902.3 1121.3 899.1 1122.3 895.8 1123.3 892.6 1124.3 889.3 1125.3 886.0 1126.3 882.6 1127.4 879.3 1128.4 875.9 1129.4 872.5 1130.4 869.0 1131.4 865.6 1132.4 862.1 1133.5 858.6 1134.5 855.1 1135.5 851.5 1136.5 847.9 1137.6 844.3 1138.6 840.7 1139.6 837.1 1140.6 833.4 1141.7 829.7 1142.7 826.0 1143.7 822.3 1144.7 818.6 1145.7 814.8 1146.8 811.0 1147.8 807.2 1148.8 803.4 1149.8 799.6 1150.8 795.7 1151.8 791.9 1152.8 788.0 1153.9 784.1 1154.9 780.2 1155.9 776.2 1156.9 772.3 1157.9 768.4 1158.9 764.4 1159.9 760.4 1160.9 756.4 1161.9 752.4 1162.9 748.4 1163.9 744.4 1164.9 740.4 1165.9 736.3 1166.9 732.3 1167.9 728.3 1169.0 724.2 1170.0 720.1 1171.0 716.1 1172.0 712.0 1173.0 707.9 1174.0 703.8 1175.0 699.7 1175.9 695.6 1176.9 691.5 1177.9 687.4 1178.9 683.3 1179.9 679.2 1180.9 675.1 1181.9 671.0 1182.8 666.9 1183.8 662.8 1184.8 658.7 1185.7 654.6 1186.7 650.5 1187.7 646.4 1188.6 642.3 1189.6 638.2 1190.5 634.1 1191.5 630.0 1192.4 625.9 1193.3 621.8 1194.3 617.7 1195.2 613.6 1196.2 609.5 1197.1 605.5 1198.1 601.4 1199.0 597.4 1200.0 593.3 1200.9 589.3 1201.9 585.2 1202.9 581.2 1203.8 577.2 1204.8 573.2 1205.8 569.2 1206.8 565.2 1207.7 561.2 1208.7 557.3 1209.7 553.3 1210.7 549.4 1211.7 545.4 1212.7 541.5 1213.7 537.6 1214.7 533.7 1215.7 529.8 1216.8 525.9 1217.8 522.0 1218.8 518.2 1219.8 514.3 1220.9 510.5 1221.9 506.7 1222.9 502.8 1224.0 499.0 1225.0 495.3 1226.1 491.5 1227.1 487.7 1228.2 484.0 1229.2 480.2 1230.2 476.5 1231.3 472.8 1232.3 469.1 1233.4 465.4 1234.4 461.7 1235.5 458.1 1236.5 454.4 1237.6 450.8 1238.6 447.2 1239.6 443.6 1240.6 440.0 1241.7 436.4 1242.7 432.8 1243.7 429.3 1244.7 425.7 1245.7 422.2 1246.7 418.7 1247.7 415.2 1248.7 411.7 1249.7 408.3 1250.7 404.8 1251.8 401.4 1252.8 398.0 1253.7 394.6 1254.7 391.3 1255.7 387.9 1256.7 384.6 1257.7 381.3 1258.7 378.0 1259.7 374.7 1260.7 371.5 1261.7 368.3 1262.7 365.1 1263.7 361.9 1264.7 358.7 1265.7 355.6 1266.7 352.5 1267.7 349.4 1268.7 346.4 1269.7 343.4 1270.7 340.4 1271.7 337.4 1272.7 334.5 1273.7 331.6 1274.7 328.8 1275.7 325.9 1276.7 323.1 1277.7 320.4 1278.7 317.7 1279.7 315.0 1280.7 312.3 1281.6 309.7 1282.6 307.1 1283.6 304.6 1284.6 302.1 1285.6 299.7 1286.6 297.3 1287.6 294.9 1288.6 292.6 1289.6 290.3 1290.6 288.1 1291.6 286.0 1292.6 283.8 1293.6 281.8 1294.6 279.8 1295.6 277.8 1296.6 275.9 1297.6 274.1 1298.6 272.3 1299.6 270.6 1300.6 268.9 1301.6 267.3 1302.6 265.8 1303.6 264.3 1304.6 262.9 1305.5 261.5 1306.5 260.2 1307.5 259.0 1308.5 257.9 1309.5 256.8 1310.5 255.8 1311.5 254.9 1312.5 254.0 1313.5 253.3 1314.5 252.6 1315.5 251.9 1316.5 251.4 1317.5 250.9 1318.5 250.5 1319.5 250.2 1320.5 250.0 1321.5 249.9 1322.5 249.8 1323.5 249.8 1324.5 249.9 1325.5 250.1 1326.5 250.4 1327.5 250.8 1328.5 251.2 1329.5 251.8 1330.4 252.4 1331.4 253.1 1332.4 253.9 1333.4 254.8 1334.4 255.8 1335.4 256.9 1336.4 258.0 1337.4 259.3 1338.4 260.6 1339.4 262.1 1340.4 263.6 1341.4 265.3 1342.4 267.0 1343.4 268.8 1344.4 270.7 1345.4 272.7 1346.4 274.8 1347.4 276.9 1348.4 279.2 1349.4 281.6 1350.4 284.0 1351.4 286.6 1352.3 289.2 1353.3 291.9 1354.3 294.7 1355.3 297.6 1356.3 300.6 1357.4 303.6 1358.4 306.8 1359.4 310.0 1360.4 313.3 1361.4 316.7 1362.4 320.2 1363.4 323.8 1364.4 327.4 1365.4 331.2 1366.4 335.0 1367.4 338.8 1368.5 342.8 1369.5 346.8 1370.5 350.9 1371.5 355.1 1372.5 359.3 1373.5 363.7 1374.6 368.0 1375.6 372.5 1376.6 377.0 1377.6 381.6 1378.7 386.2 1379.7 390.9 1380.7 395.7 1381.7 400.5 1382.7 405.4 1383.8 410.3 1384.8 415.3 1385.8 420.3 1386.8 425.4 1387.8 430.5 1388.9 435.7 1389.9 440.9 1390.9 446.2 1391.9 451.5 1392.9 456.9 1394.0 462.2 1395.0 467.7 1396.0 473.1 1397.0 478.6 1398.0 484.1 1399.0 489.7 1400.0 495.3 1401.0 500.9 1402.0 506.5 1403.0 512.2 1404.0 517.9 1405.0 523.6 1405.9 529.3 1406.9 535.0 1407.9 540.8 1408.9 546.5 1409.8 552.3 1410.8 558.1 1411.8 563.9 1412.7 569.7 1413.7 575.6 1414.6 581.4 1415.6 587.2 1416.5 593.0 1417.5 598.9 1418.4 604.7 1419.4 610.5 1420.3 616.4 1421.3 622.2 1422.2 628.0 1423.2 633.8 1424.2 639.6 1425.1 645.4 1426.1 651.2 1427.1 656.9 1428.1 662.7 1429.1 668.4 1430.2 674.2 1431.2 679.9 1432.2 685.6 1433.2 691.2 1434.3 696.9 1435.3 702.5 1436.3 708.2 1437.4 713.8 1438.4 719.3 1439.4 724.9 1440.4 730.4 1441.5 735.9 1442.5 741.4 1443.5 746.9 1444.5 752.3 1445.6 757.7 1446.6 763.1 1447.6 768.5 1448.6 773.8 1449.6 779.1 1450.6 784.4 1451.6 789.7 1452.6 794.9 1453.6 800.1 1454.6 805.2 1455.6 810.4 1456.6 815.5 1457.5 820.6 1458.5 825.6 1459.5 830.6 1460.4 835.6 1461.4 840.5 1462.4 845.4 1463.4 850.3 1464.3 855.2 1465.3 860.0 1466.3 864.8 1467.2 869.5 1468.2 874.2 1469.2 878.9 1470.2 883.5 1471.2 888.1 1472.2 892.7 1473.2 897.2 1474.2 901.7 1475.2 906.1 1476.2 910.5 1477.2 914.9 1478.2 919.2 1479.2 923.5 1480.2 927.8 1481.2 932.0 1482.2 936.2 1483.3 940.3 1484.3 944.4 1485.3 948.5 1486.3 952.5 1487.3 956.5 1488.4 960.5 1489.4 964.4 1490.4 968.2 1491.4 972.1 1492.5 975.9 1493.5 979.6 1494.5 983.3 1495.5 987.0 1496.6 990.6 1497.6 994.2 1498.6 997.8 1499.6 1001.3 1500.7 1004.7 1501.7 1008.2 1502.7 1011.5 1503.7 1014.9 1504.7 1018.2 1505.7 1021.5 1506.7 1024.7 1507.7 1027.9 1508.7 1031.0 1509.7 1034.1 1510.7 1037.2 1511.7 1040.2 1512.7 1043.2 1513.7 1046.2 1514.7 1049.1 1515.7 1051.9 1516.7 1054.7 1517.7 1057.5 1518.7 1060.3 1519.7 1063.0 1520.6 1065.6 1521.6 1068.2 1522.6 1070.8 1523.6 1073.3 1524.6 1075.8 1525.6 1078.3 1526.6 1080.7 1527.6 1083.1 1528.6 1085.4 1529.6 1087.7 1530.6 1090.0 1531.5 1092.2 1532.5 1094.4 1533.5 1096.5 1534.5 1098.6 1535.5 1100.7 1536.5 1102.7 1537.5 1104.7 1538.5 1106.7 1539.5 1108.6 1540.5 1110.4 1541.5 1112.3 1542.5 1114.1 1543.5 1115.8 1544.5 1117.6 1545.5 1119.3 1546.5 1121.0 1547.5 1122.6 1548.5 1124.2 1549.4 1125.9 1550.4 1127.5 1551.4 1129.0 1552.4 1130.5 1553.4 1131.9 1554.4 1133.3 1555.4 1134.6 1556.4 1135.9 1557.4 1137.1 1558.4 1138.3 1559.4 1139.4 1560.4 1140.5 1561.4 1141.6 1562.4 1142.6 1563.4 1143.7 1564.4 1144.8 1565.4 1146.0 1566.4 1147.1 1567.4 1148.1 1568.4 1149.1 1569.4 1150.0 1570.4 1150.9 1571.4 1151.8 1572.4 1152.6 1573.4 1153.3 1574.4 1154.1 1575.4 1154.8 1576.4 1155.5 1577.4 1156.2 1578.4 1156.8 1579.4 1157.5 1580.4 1158.1 1581.4 1158.7 1582.4 1159.3 1583.4 1159.9 1584.4 1160.5 1585.4 1161.1 1586.4 1161.7 1587.4 1162.3 1588.4 1162.9 1589.4 1163.5 1590.4 1164.2 1591.4 1164.8 1592.4 1165.4 1593.4 1166.0 1594.4 1166.6 1595.4 1167.1 1596.4 1167.7 1597.4 1168.2 1598.4 1168.7 1599.4 1169.2 1600.4 1169.7 1601.4 1170.1 1602.4 1170.6 1603.4 1170.9 1604.4 1171.3 1605.4 1171.7 1606.4 1172.1 1607.4 1172.4 1608.4 1172.8 1609.4 1173.1 1610.4 1173.4 1611.4 1173.7 1612.4 1174.0 1613.4 1174.3 1614.4 1174.6 1615.4 1174.9 1616.4 1175.1 1617.4 1175.3 1618.5 1175.6 1619.5 1175.8 1620.5 1175.9 1621.5 1176.1 1622.5 1176.3 1623.5 1176.5 1624.5 1176.6 1625.5 1176.8 1626.5 1177.0 1627.4 1177.1 1628.4 1177.3 1629.5 1177.4 1630.4 1177.5 1631.4 1177.6 1632.5 1177.8 1633.4 1177.9 1634.5 1178.0 1635.4 1178.0 1636.4 1178.1 1637.5 1178.2 1638.4 1178.3 1639.5 1178.3 1640.4 1178.4 1641.5 1178.4 1642.6 1178.5 1643.4 1178.5 1644.5 1178.6 1645.4 1178.7 1646.5 1178.7 1647.4 1178.8 1648.5 1178.8 1649.3 1178.8 1650.5 1178.9 1651.6 1178.9 1652.4 1179.0 1653.6 1179.0 1654.4 1179.0 1655.6 1179.0 1656.4 1179.1 1657.6 1179.1 1658.4 1179.1 1659.6 1179.1 1660.3 1179.1 1661.5 1179.1 1662.3 1179.1 1663.5 1179.1 1664.2 1179.1 1665.5 1179.1 1666.8 1179.1 1667.5 1179.1 1668.7 1179.1 1669.4 1179.1 1670.7 1179.1 1671.4 1179.1 1672.7 1179.1 1673.4 1179.1 1674.7 1179.1 1675.3 1179.1 1676.6 1179.1 1677.3 1179.1 1678.6 1179.1 1679.2 1179.1 1680.5 1179.1 1681.2 1179.1 1682.5 1179.1 1683.8 1179.1 1684.4 1179.1 1685.7 1179.1 1686.3 1179.1 1687.6 1179.0 1688.3 1179.0 1689.5 1179.0 1690.2 1179.0 1691.4 1179.0 1692.7 1179.0 1693.4 1179.0 1694.6 1179.0 1695.2 1179.0 1696.5 1179.0 1697.1 1179.0 1698.4 1179.0 1699.6 1179.0 1700.3 1179.0 1701.5 1179.0 1702.1 1179.0 1703.3 1179.0 1704.6 1179.0 1705.2 1179.0 1706.4 1179.0 1707.6 1179.0 1708.2 1179.0 1709.4 1179.0 1710.6 1179.0 1711.2 1179.0 1712.4 1179.0 1713.6 1178.9 1714.7 1178.9 1715.3 1178.9 1716.5 1178.9 1717.6 1178.9 1718.8 1178.9 1719.3 1178.9 1720.5 1178.9 1721.6 1178.9 1722.7 1178.9 1723.8 1178.9 1724.4 1178.9 1725.4 1178.9 1726.5 1178.9 1727.6 1178.9 1728.7 1178.9 1729.7 1178.8 1730.8 1178.8 1731.8 1178.8 1732.8 1178.8 1733.8 1178.8 1734.8 1178.8 1735.8 1178.8 1736.8 1178.8 1737.8 1178.8 1738.7 1178.8 1739.7 1178.8 1740.6 1178.8 1741.5 1178.8 1742.9 1178.8 1743.8 1178.8 1744.2 1178.8"/>
</g>
<g stroke-width="9" stroke-linecap="round">
<line x1="619.0" y1="150.6" x2="704.5" y2="150.6" stroke="#2aaae4"/>
<line x1="995.0" y1="150.6" x2="1079.5" y2="150.6" stroke="#ff0000"/>
<line x1="1369.5" y1="150.6" x2="1454.5" y2="150.6" stroke="#0c1f5c"/>
</g>
<g style="font-family:Carlito,'Liberation Sans',sans-serif;font-weight:bold;font-size-adjust:0.485" fill="#000">
<text x="932.9" y="94.2" font-size="92" textLength="384.2" lengthAdjust="spacingAndGlyphs">PDEAEMA</text>
<text x="712.9" y="165.8" font-size="53" textLength="148.2" lengthAdjust="spacingAndGlyphs">20 min</text>
<text x="1089.6" y="165.8" font-size="53" textLength="146.8" lengthAdjust="spacingAndGlyphs">40 min</text>
<text x="1463.7" y="165.8" font-size="53" textLength="147.4" lengthAdjust="spacingAndGlyphs">60 min</text>
<text x="228.1" y="1264.3" font-size="53" textLength="26.9" lengthAdjust="spacingAndGlyphs">2</text>
<text x="462.1" y="1264.3" font-size="53" textLength="67.9" lengthAdjust="spacingAndGlyphs">2.5</text>
<text x="736.0" y="1264.3" font-size="53" textLength="26.9" lengthAdjust="spacingAndGlyphs">3</text>
<text x="970.1" y="1264.3" font-size="53" textLength="67.9" lengthAdjust="spacingAndGlyphs">3.5</text>
<text x="1244.6" y="1264.3" font-size="53" textLength="26.9" lengthAdjust="spacingAndGlyphs">4</text>
<text x="1479.1" y="1264.3" font-size="53" textLength="67.9" lengthAdjust="spacingAndGlyphs">4.5</text>
<text x="1753.1" y="1264.3" font-size="53" textLength="26.9" lengthAdjust="spacingAndGlyphs">5</text>
<text x="1986.6" y="1264.3" font-size="53" textLength="67.9" lengthAdjust="spacingAndGlyphs">5.5</text>
<text x="164.7" y="1197.9" font-size="53" textLength="26.9" lengthAdjust="spacingAndGlyphs">0</text>
<text x="125.3" y="933.4" font-size="53" textLength="67.9" lengthAdjust="spacingAndGlyphs">0.5</text>
<text x="165.6" y="668.8" font-size="53" textLength="26.9" lengthAdjust="spacingAndGlyphs">1</text>
<text x="125.3" y="404.2" font-size="53" textLength="67.9" lengthAdjust="spacingAndGlyphs">1.5</text>
<text x="165.5" y="139.7" font-size="53" textLength="26.9" lengthAdjust="spacingAndGlyphs">2</text>
<text x="908.3" y="1375.2" font-size="78" textLength="257.4" lengthAdjust="spacingAndGlyphs">Log Mw</text>
<text transform="translate(91,892.6) rotate(-90)" x="0" y="0" font-size="78" textLength="482.6" lengthAdjust="spacingAndGlyphs">dwt/d(logMw)</text>
</g>
</g>
</svg>
</body></html>
